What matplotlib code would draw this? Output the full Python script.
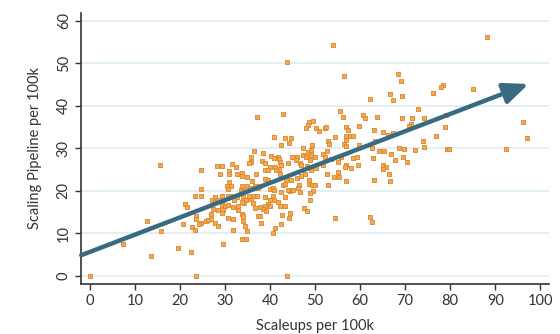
import matplotlib.pyplot as plt

# scatter points (scaleups, pipeline) per 100k
scaleups = [
    0.0, 7.4, 13.7, 12.8, 15.8, 15.6, 23.6, 43.8, 24.8, 43.8, 54.1, 88.1,
    37.2, 36.5, 35.8, 35.8, 35.4, 31.5, 32.4, 29.3, 28.2, 31.0, 33.9,
    28.9, 31.0, 32.6, 33.9, 35.0, 36.8, 30.9, 36.1, 30.4, 31.3, 30.7, 33.7, 34.8, 35.6, 36.7, 37.3,
    24.6, 33.5, 34.1, 23.3, 24.8, 27.9, 29.4, 30.6, 31.3, 32.6, 27.2, 28.5, 29.6, 32.1, 34.1, 34.7,
    35.8, 35.3, 36.5, 37.1, 21.1, 21.5, 27.9, 29.3, 30.0, 30.7, 31.8, 33.0, 34.3, 33.7, 36.3, 36.7,
    27.4, 28.5, 29.6, 33.0, 29.3, 33.7, 34.1, 37.4, 23.5, 23.5, 27.0, 25.7, 26.3, 27.0, 24.8, 24.2,
    30.7, 31.8, 34.1, 20.7, 27.9, 28.4, 34.4, 22.6, 23.3, 31.8, 34.8, 29.6, 33.9, 34.7, 19.6, 22.4,
    42.9, 55.6, 49.6, 48.7, 48.4, 48.1, 50.3, 50.9, 52.2, 52.5, 40.8, 43.4, 44.7, 54.5, 52.9, 53.0,
    42.4, 44.2, 47.3, 49.3, 38.4, 40.2, 41.0, 41.8, 41.9, 45.0, 46.1, 45.7, 47.3, 48.4, 49.2, 49.2,
    47.9, 49.9, 48.9, 51.8, 52.7, 52.2, 53.5, 55.1, 38.2, 39.0, 40.1, 41.2, 42.3, 42.5, 44.0, 46.6,
    46.8, 48.3, 49.2, 50.3, 51.8, 55.1, 38.8, 39.6, 41.9, 41.4,
    38.8, 39.6, 42.2, 43.6, 44.7, 46.1, 46.8, 47.7, 48.6, 48.6, 49.3, 50.1, 49.6, 48.8, 46.7, 46.4,
    46.2, 52.9, 52.7, 54.2, 55.3, 42.9, 43.3, 37.7, 39.9, 40.7, 41.0, 44.4, 45.1, 44.0, 42.4, 43.3,
    39.0, 39.9, 40.7, 40.9, 41.8, 39.6, 39.9, 38.8, 38.4, 37.9, 39.2, 37.7, 42.2, 43.3, 47.6, 48.2,
    48.8, 44.4, 42.7, 44.2, 54.4, 42.5, 41.2, 40.7, 38.1,
    56.4, 68.5, 69.0, 62.3, 66.7, 69.3, 67.4, 72.8, 56.2, 60.6, 61.2, 63.7, 69.3, 71.5, 74.2, 71.2,
    70.8, 59.8, 56.9, 57.4, 63.0, 65.0, 67.4, 66.2, 56.9, 57.8, 58.5, 56.9, 63.4, 56.4, 56.9, 59.8,
    62.6, 73.9, 74.1, 68.7, 69.7, 72.1, 64.3, 65.3, 66.9, 55.8, 58.5, 59.3, 62.8, 69.5, 67.8, 70.4,
    56.9, 56.7, 57.9, 59.6, 65.0, 65.8, 65.0, 66.4,
    56.9, 63.2, 66.7, 62.3, 62.6,
    78.4, 77.9, 76.3, 85.0, 78.8, 79.0, 76.8, 79.4, 79.8, 92.5, 96.2, 97.0,
]
pipeline = [
    0.0, 7.4, 4.6, 12.9, 10.5, 26.1, 0.0, 0.0, 24.8, 50.2, 54.2, 56.1,
    37.3, 29.3, 27.8, 26.8, 26.6, 26.3, 25.5, 25.7, 25.8, 24.7, 24.2,
    24.0, 23.8, 23.8, 23.5, 23.2, 23.8, 22.0, 22.2, 21.2, 21.0, 20.4, 21.0, 21.0, 20.6, 21.0, 20.6,
    20.5, 20.2, 19.9, 18.7, 18.7, 18.5, 18.7, 18.8, 18.7, 18.4, 17.9, 17.9, 17.7, 17.9, 18.5, 17.9,
    18.0, 18.8, 18.7, 18.8, 16.9, 16.2, 17.3, 16.7, 16.3, 16.7, 16.1, 16.5, 17.1, 17.3, 17.1, 15.9,
    15.7, 15.5, 15.5, 15.4, 14.8, 14.4, 14.0, 14.0, 14.0, 13.3, 14.4, 12.9, 13.2, 13.4, 12.4, 12.2,
    13.6, 13.3, 12.8, 12.2, 12.4, 11.6, 11.6, 11.5, 10.8, 10.7, 10.4, 7.5, 8.5, 8.6, 6.5, 5.6,
    38.0, 38.8, 36.5, 36.1, 35.5, 34.7, 34.7, 34.0, 34.8, 34.9, 32.6, 32.5, 32.5, 32.7, 31.7, 30.9,
    30.8, 31.2, 30.1, 30.8, 28.8, 28.2, 27.6, 28.0, 27.4, 28.0, 27.8, 27.2, 28.4, 29.0, 29.6, 28.4,
    27.8, 27.8, 27.1, 28.6, 29.3, 28.0, 27.4, 26.8, 27.0, 26.4, 25.6, 25.6, 26.8, 26.0, 26.4, 26.4,
    26.0, 25.8, 24.9, 25.3, 26.0, 24.5, 24.9, 24.9, 25.1, 24.9,
    22.8, 22.6, 23.8, 22.4, 22.4, 23.0, 23.4, 23.8, 22.4, 21.6, 21.4, 21.4, 19.9, 19.5, 19.6, 21.4,
    20.6, 21.4, 23.8, 23.2, 23.2, 21.4, 21.6, 21.0, 20.4, 20.6, 20.2, 19.9, 20.1, 20.1, 19.6, 18.5,
    18.5, 17.9, 18.7, 17.9, 17.3, 16.9, 16.5, 16.3, 15.7, 16.2, 15.2, 14.1, 16.3, 16.3, 15.9, 15.3,
    17.7, 14.8, 14.2, 13.6, 13.6, 12.2, 11.2, 10.0, 12.4,
    47.0, 47.4, 45.9, 41.5, 42.8, 42.3, 41.3, 39.2, 37.3, 37.8, 37.0, 37.4, 37.2, 37.2, 37.0, 35.7,
    35.3, 35.1, 34.9, 34.3, 34.3, 33.7, 33.6, 33.1, 32.9, 32.9, 32.9, 31.9, 31.7, 30.9, 30.5, 30.8,
    30.0, 31.7, 30.2, 30.1, 29.7, 29.6, 29.3, 29.3, 28.6, 28.0, 27.6, 27.9, 27.6, 27.9, 27.2, 26.8,
    26.0, 25.5, 25.3, 26.0, 26.0, 25.6, 25.0, 23.9,
    22.2, 22.6, 22.2, 13.8, 12.6,
    44.9, 44.5, 42.9, 43.9, 34.9, 37.8, 32.9, 29.7, 29.9, 29.7, 36.1, 32.3,
]

# trend arrow (start -> end, data units)
trend_x = [-1.9, 97.4]
trend_y = [4.8, 45.1]

x_ticks = [0, 10, 20, 30, 40, 50, 60, 70, 80, 90, 100]
y_ticks = [0, 10, 20, 30, 40, 50, 60]

plt.rcParams['font.family'] = ['Lato', 'DejaVu Sans']

fig = plt.figure(figsize=(5.6, 3.34), dpi=100)
ax = fig.add_axes([0.145, 0.150, 0.835, 0.811])

ax.scatter(scaleups, pipeline, marker='s', s=6, facecolor='#F2A955',
           edgecolor='#DE8526', linewidths=0.6, zorder=3)

ax.annotate('', xy=(trend_x[1], trend_y[1]), xytext=(trend_x[0], trend_y[0]),
            arrowprops=dict(arrowstyle='-|>,head_length=0.75,head_width=0.32',
                            lw=3.2, color='#386A82', mutation_scale=20,
                            shrinkA=0, shrinkB=0),
            zorder=4, annotation_clip=False)

ax.set_xlim(-1.9, 101.9)
ax.set_ylim(-1.95, 61.8)
ax.set_xticks(x_ticks)
ax.set_yticks(y_ticks)
ax.set_yticklabels([str(t) for t in y_ticks], rotation=90, va='center')
ax.tick_params(axis='both', labelsize=10.5, colors='#333333', length=4, width=1)

for s in ['top', 'right']:
    ax.spines[s].set_visible(False)
for s in ['left', 'bottom']:
    ax.spines[s].set_color('#333333')
    ax.spines[s].set_linewidth(1.2)

ax.yaxis.grid(True, color='#DDEEF1', lw=1.2, zorder=0)
ax.set_axisbelow(True)

ax.set_xlabel('Scaleups per 100k', fontsize=10.5, color='#333333', labelpad=8)
ax.set_ylabel('Scaling Pipeline per 100k', fontsize=10.5, color='#333333', labelpad=11)

fig.savefig('out.png', dpi=100)
